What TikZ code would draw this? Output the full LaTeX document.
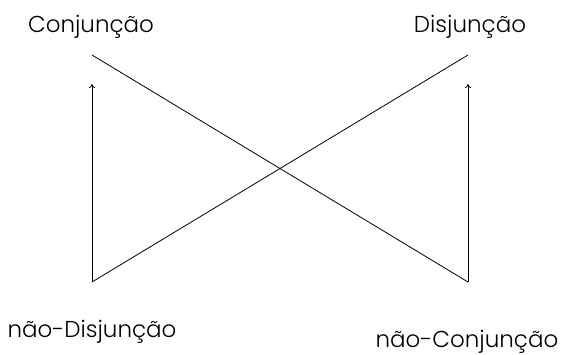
\documentclass[tikz,border=0pt]{standalone}
\usepackage{fontspec}
\setmainfont{Poppins}[UprightFont={* Light}]
\usepackage{tikz}
\usetikzlibrary{arrows.meta,positioning,calc}

\begin{document}
\begin{tikzpicture}[
  x=1pt,y=-1pt,
  font=\fontsize{23}{27}\selectfont,
  lbl/.style={inner sep=0pt,anchor=base},
  ln/.style={line width=0.8pt},
  up/.style={ln,-{To[length=4pt,width=6pt]}}
]
\useasboundingbox (0,0) rectangle (563,354);
% corners of the square
\node[lbl] (conj) at (91,32) {Conjunção};
\node[lbl] (disj) at (470,32) {Disjunção};
\node[lbl] (ndisj) at (92,337) {não-Disjunção};
\node[lbl] (nconj) at (467,347) {não-Conjunção};
% line ends
\coordinate (ul) at (92,55);
\coordinate (ur) at (468,55);
\coordinate (ll) at (92,282);
\coordinate (lr) at (468,282);
\coordinate (al) at (92,84);
\coordinate (ar) at (468,84);
% diagonals and arrows
\draw[ln] (ul) -- (lr);
\draw[ln] (ur) -- (ll);
\draw[up] (ll) -- (al);
\draw[up] (lr) -- (ar);
\end{tikzpicture}
\end{document}
